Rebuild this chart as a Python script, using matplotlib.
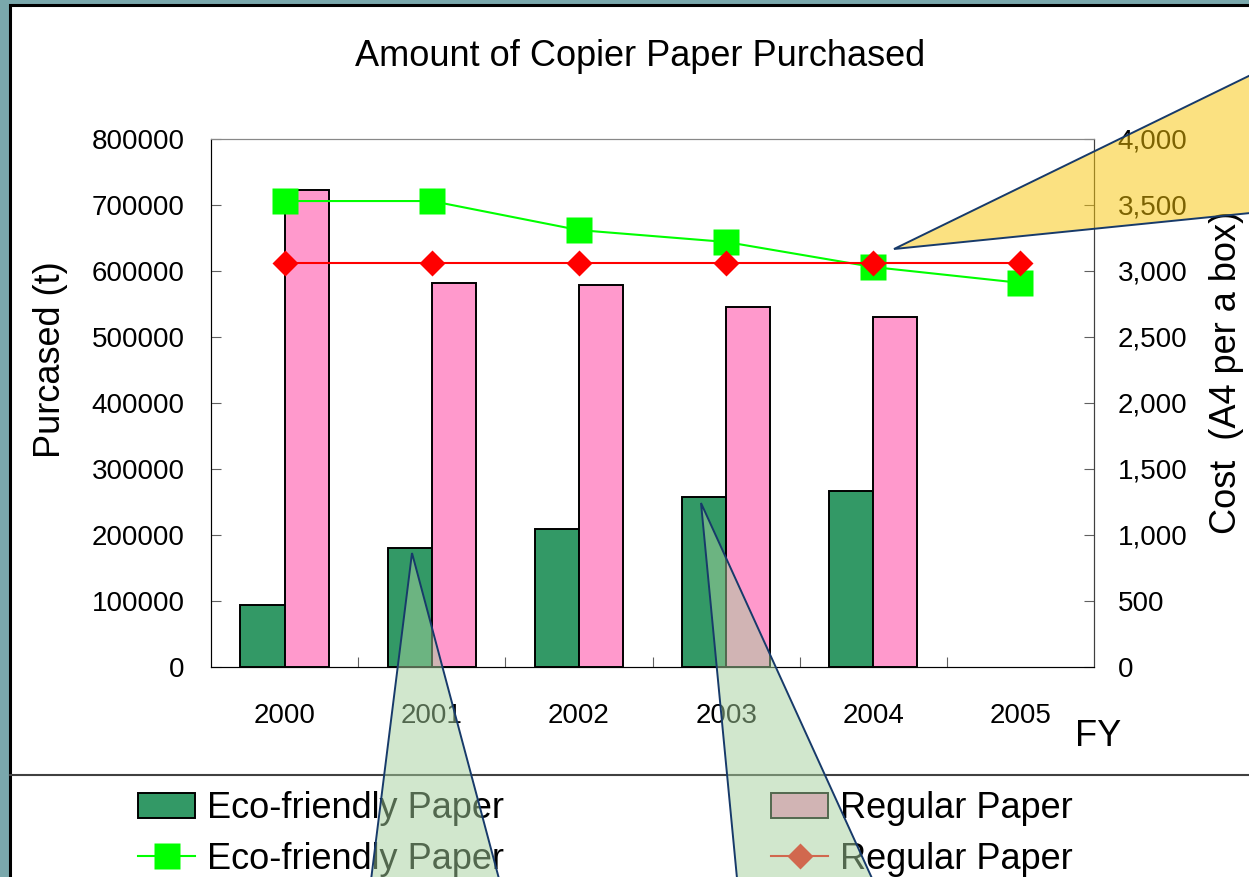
import numpy as np
import matplotlib
matplotlib.use('Agg')
from matplotlib import pyplot as plt
from matplotlib.patches import Rectangle, Polygon
from matplotlib.lines import Line2D

plt.rcParams['font.family'] = ['Liberation Sans', 'DejaVu Sans']

# data
years = ['2000', '2001', '2002', '2003', '2004', '2005']
eco_amount = [94000, 180000, 209000, 258000, 266000, np.nan]
reg_amount = [722000, 582000, 579000, 546000, 531000, np.nan]
eco_cost = [3530, 3530, 3310, 3220, 3030, 2910]
reg_cost = [3060, 3060, 3060, 3060, 3060, 3060]

W, H = 1249, 877
fig = plt.figure(figsize=(W / 100, H / 100), dpi=100)
fig.patch.set_facecolor('#7aa8ac')

def fx(px):
    return px / W

def fy(py):
    return 1 - py / H

# white slide panel
fig.add_artist(Rectangle((fx(10), -0.1), 1.2, fy(5) + 0.1, transform=fig.transFigure,
                         facecolor='white', edgecolor='black', lw=2.2, zorder=-5))
fig.add_artist(Line2D([fx(10), 1], [fy(775), fy(775)], transform=fig.transFigure,
                      color='#404040', lw=1.5, zorder=-4))

ax = fig.add_axes([fx(211), fy(667), fx(1094) - fx(211), fy(139) - fy(667)])
x = np.arange(len(years))
w = 0.3
b1 = ax.bar(x - w / 2, eco_amount, width=w, color='#339966', edgecolor='black', lw=1.4)
b2 = ax.bar(x + w / 2, reg_amount, width=w, color='#ff99cc', edgecolor='black', lw=1.4)
ax.set_xlim(-0.5, 5.5)
ax.set_ylim(0, 800000)
ax.set_yticks(np.arange(0, 800001, 100000))
ax.set_xticks(np.arange(0.5, 5), labels=[])
ax.set_xticks(x, labels=years, minor=True)
ax.tick_params(axis='x', which='major', direction='in', length=7, color='#606060')
ax.tick_params(axis='x', which='minor', length=0, pad=26, labelsize=20)
ax.tick_params(axis='y', direction='in', length=7, color='#606060', pad=19, labelsize=20)
for s in ['left', 'bottom']:
    ax.spines[s].set_color('#404040')
ax.spines['top'].set_color('#888888')
ax.spines['right'].set_color('#404040')
ax.set_ylabel('Purcased (t)', fontsize=26, va='center')
ax.yaxis.set_label_coords((51 - 211) / 883, (667 - 360) / 528)
ax.set_xlabel('FY', fontsize=26, va='center')
ax.xaxis.set_label_coords((1098 - 211) / 883, (667 - 737) / 528)

ax2 = ax.twinx()
l1, = ax2.plot(x, eco_cost, color='#00ff00', lw=1.5, marker='s', ms=18.5, mec='none')
l2, = ax2.plot(x, reg_cost, color='#ff0000', lw=1.5, marker='D', ms=13.5, mec='none')
ax2.set_ylim(0, 4000)
ax2.set_yticks(np.arange(0, 4001, 500))
ax2.set_yticklabels([f'{v:,}' for v in range(0, 4001, 500)])
ax2.tick_params(axis='y', direction='in', length=7, color='#606060', pad=17, labelsize=20)
ax2.spines['right'].set_color('#404040')
ax2.spines['top'].set_color('#888888')
ax2.set_ylabel('Cost  (A4 per a box)', fontsize=26, va='center', rotation=90)
ax2.yaxis.set_label_coords((1226 - 211) / 883, (667 - 372) / 528)

fig.text(fx(640), fy(57), 'Amount of Copier Paper Purchased', fontsize=26,
         ha='center', va='center')

fig.legend([b1, l1, b2, l2],
           ['Eco-friendly Paper', 'Eco-friendly Paper', 'Regular Paper', 'Regular Paper'],
           ncol=2, loc='upper left', bbox_to_anchor=(fx(138), fy(791)), frameon=False,
           fontsize=26, borderpad=0, borderaxespad=0, handlelength=1.58,
           handletextpad=0.33, columnspacing=7.4, labelspacing=0.43)

# callout shapes laid over the chart
navy = '#173a6a'
yellow = Polygon([(fx(894), fy(249)), (fx(1300), fy(51)), (fx(1300), fy(208))],
                 closed=True, transform=fig.transFigure, zorder=10,
                 facecolor=(0.973, 0.773, 0.02, 0.5), edgecolor=navy, lw=1.4)
green1 = Polygon([(fx(412), fy(553)), (fx(366), fy(920)), (fx(510), fy(920))],
                 closed=True, transform=fig.transFigure, zorder=10,
                 facecolor=(0.647, 0.816, 0.616, 0.5), edgecolor=navy, lw=1.4)
green2 = Polygon([(fx(701), fy(503)), (fx(741), fy(920)), (fx(891), fy(920))],
                 closed=True, transform=fig.transFigure, zorder=10,
                 facecolor=(0.647, 0.816, 0.616, 0.5), edgecolor=navy, lw=1.4)
for p in [yellow, green1, green2]:
    fig.add_artist(p)

fig.savefig('out.png', dpi=100, facecolor=fig.get_facecolor())
